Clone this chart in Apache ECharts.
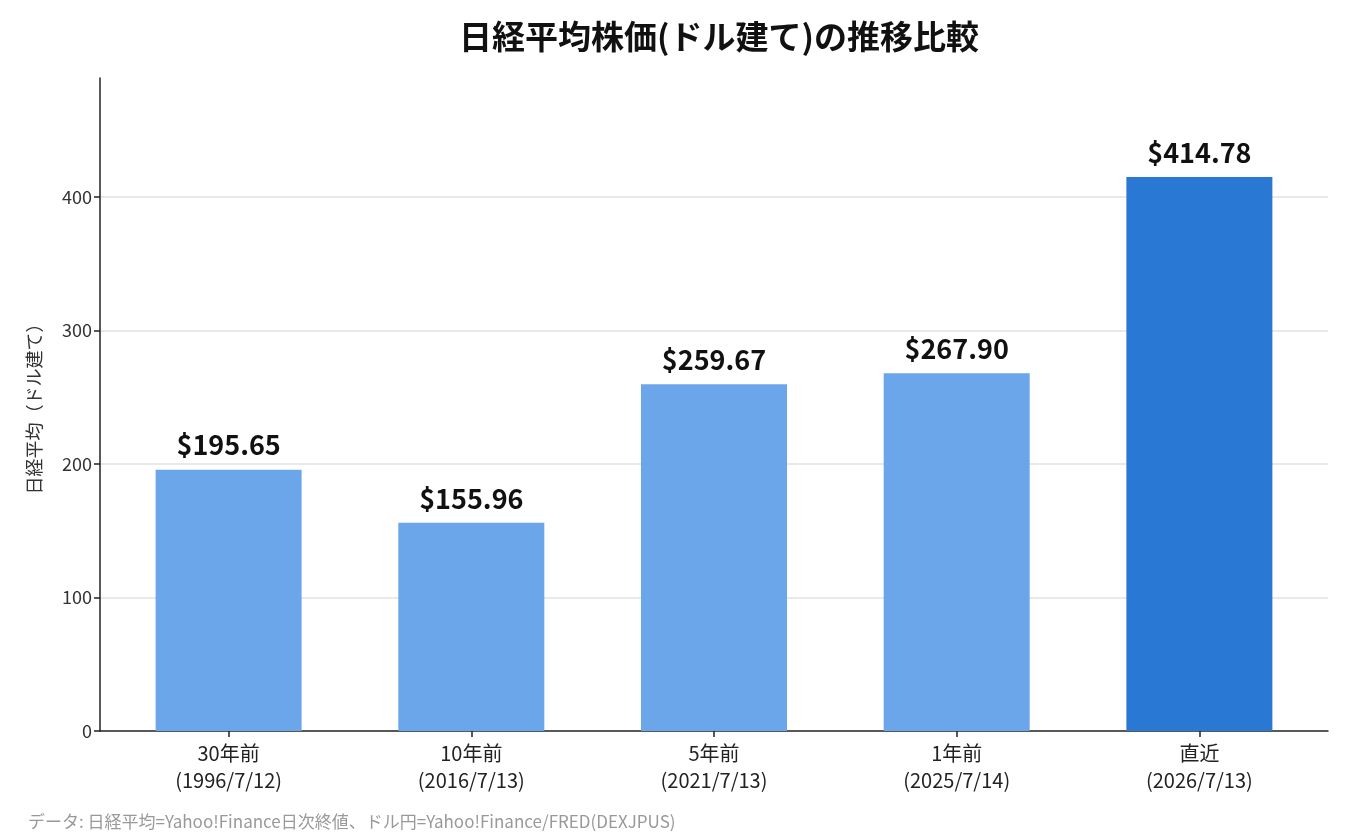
<!DOCTYPE html>
<html>
<head>
<meta charset="utf-8">
<script src="https://cdn.jsdelivr.net/npm/echarts@6/dist/echarts.min.js"></script>
<style>
html,body{margin:0;padding:0;background:#fff;}
#chart{width:1350px;height:840px;}
</style>
</head>
<body>
<div id="chart"></div>
<script>
// 各時点の名称と日付
var periods = ["30年前", "10年前", "5年前", "1年前", "直近"];
var dates = ["1996/7/12", "2016/7/13", "2021/7/13", "2025/7/14", "2026/7/13"];
// 日経平均（ドル建て）
var usdValues = [195.65, 155.96, 259.67, 267.90, 414.78];
var yTicks = [0, 100, 200, 300, 400];

var FONT = "'Noto Sans CJK JP', 'Noto Sans', sans-serif";
var chart = echarts.init(document.getElementById('chart'));

var barData = [];
for (var i = 0; i < usdValues.length; i++) {
    barData.push({
        value: [i, usdValues[i]],
        itemStyle: { color: i == usdValues.length - 1 ? '#2878d4' : '#6ca6ea' }
    });
}
var xPositions = [];
for (var k = 0; k < periods.length; k++) xPositions.push(k);

var option = {
    backgroundColor: '#fff',
    textStyle: { fontFamily: FONT },
    title: {
        text: '日経平均株価(ドル建て)の推移比較',
        left: 714,
        textAlign: 'center',
        top: 15,
        textStyle: { fontSize: 33, fontWeight: 'bold', color: '#111', fontFamily: FONT }
    },
    grid: { left: 100, right: 22, top: 78, bottom: 109 },
    xAxis: {
        type: 'value',
        min: -0.53,
        max: 4.53,
        splitLine: { show: false },
        axisLine: { show: true, onZero: false, lineStyle: { color: '#222', width: 1.5 } },
        axisTick: { show: true, customValues: xPositions, length: 6, lineStyle: { color: '#222', width: 1.5 } },
        axisLabel: {
            customValues: xPositions,
            margin: 9,
            fontSize: 20,
            lineHeight: 27,
            color: '#222',
            fontFamily: FONT,
            formatter: function (v) {
                var idx = Math.round(v);
                return periods[idx] + '\n(' + dates[idx] + ')';
            }
        }
    },
    yAxis: {
        type: 'value',
        min: 0,
        max: 489,
        interval: 100,
        name: '日経平均（ドル建て）',
        nameLocation: 'middle',
        nameRotate: 90,
        nameGap: 57,
        nameTextStyle: { fontSize: 18, color: '#333', fontFamily: FONT },
        axisLine: { show: true, onZero: false, lineStyle: { color: '#222', width: 1.5 } },
        axisTick: { show: true, customValues: yTicks, length: 6, lineStyle: { color: '#222', width: 1.5 } },
        axisLabel: {
            customValues: yTicks,
            fontSize: 18, color: '#333', margin: 8, fontFamily: FONT
        },
        splitLine: { show: true, showMinLine: false, lineStyle: { color: '#e2e2e2', width: 1.5 } }
    },
    series: [{
        type: 'bar',
        data: barData,
        barWidth: 146,
        label: {
            show: true,
            position: 'top',
            distance: 11,
            fontSize: 27,
            fontWeight: 'bold',
            color: '#111',
            fontFamily: FONT,
            formatter: function (p) { return '$' + p.value[1].toFixed(2); }
        }
    }],
    graphic: [{
        type: 'text',
        left: 28,
        top: 813,
        style: {
            text: 'データ: 日経平均=Yahoo!Finance日次終値、ドル円=Yahoo!Finance/FRED(DEXJPUS)',
            fontSize: 17,
            fill: '#999',
            fontFamily: FONT
        }
    }]
};
chart.setOption(option);
</script>
</body>
</html>
